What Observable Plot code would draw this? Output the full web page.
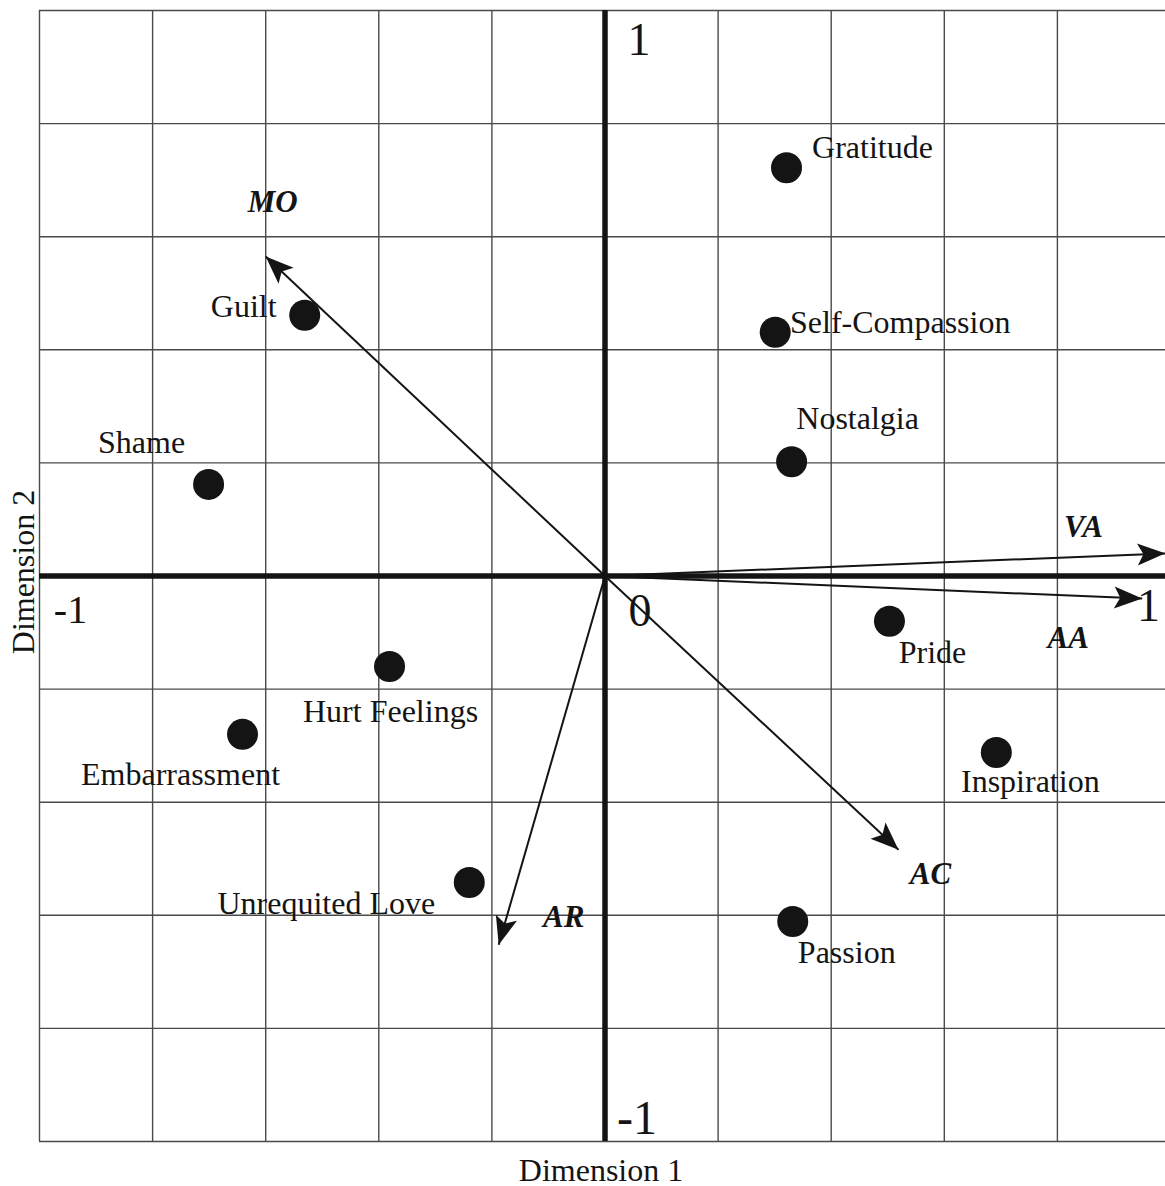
<!DOCTYPE html>
<html><head><meta charset="utf-8">
<script src="https://cdn.jsdelivr.net/npm/d3@7"></script>
<script src="https://cdn.jsdelivr.net/npm/@observablehq/plot@0.6"></script>
<style>html,body{margin:0;padding:0;background:#fff;overflow:hidden;}</style>
</head><body><div id="chart"></div>
<script>
// ---- data ----
const emotions = ["Gratitude","Self-Compassion","Nostalgia","Guilt","Shame","Pride","Hurt Feelings","Embarrassment","Inspiration","Unrequited Love","Passion"];
const dim1 = [0.321, 0.301, 0.330, -0.531, -0.701, 0.503, -0.381, -0.641, 0.692, -0.240, 0.332];
const dim2 = [0.722, 0.431, 0.202, 0.461, 0.162, -0.080, -0.160, -0.280, -0.312, -0.542, -0.611];
const vectors = ["MO","VA","AA","AC","AR"];
const vecX = [-0.600, 0.991, 0.950, 0.519, -0.188];
const vecY = [0.565, 0.040, -0.040, -0.484, -0.652];
const gridTicks = [-1,-0.8,-0.6,-0.4,-0.2,0,0.2,0.4,0.6,0.8,1];
const tickLabels = ["1","-1","0","1","-1"];
const tickX = [0,-1,0,1,0];
const tickY = [1,0,0,0,-1];

// ---- layout (label offsets in px: dx to text centre, dy to baseline) ----
const pointLabelOffset = {
  "Gratitude":[86,-10], "Self-Compassion":[125,1], "Nostalgia":[66,-33], "Guilt":[-61,2],
  "Shame":[-67,-31], "Pride":[43,42], "Hurt Feelings":[1,56], "Embarrassment":[-62,51],
  "Inspiration":[34,40], "Unrequited Love":[-143,31], "Passion":[54,41]
};
const vectorLabelOffset = {"MO":[7,-44],"VA":[-82,-16],"AA":[-74,49],"AC":[32,34],"AR":[65,-18]};
const tickLabelStyle = [[34,44,46],[31,47,40],[35,50,46],[-22,45,46],[32,-8,48]];

const points = emotions.map((name,i)=>({name, x:dim1[i], y:dim2[i]}));
const vecs = vectors.map((name,i)=>({name, x:vecX[i], y:vecY[i]}));
const ticks = tickLabels.map((t,i)=>({t, x:tickX[i], y:tickY[i]}));

const arrowHead = {
  draw(ctx){ ctx.moveTo(0,0); ctx.lineTo(11,28); ctx.lineTo(0,22); ctx.lineTo(-11,28); ctx.closePath(); }
};
const ink = "#141414";
const font = "'Liberation Serif', 'Times New Roman', serif";

const chart = Plot.plot({
  width: 1165, height: 1186,
  marginLeft: 39, marginRight: -5, marginTop: 10, marginBottom: 45,
  x: {domain: [-1, 1], axis: null},
  y: {domain: [-1, 1], axis: null},
  style: {fontFamily: font, background: "#fff", color: ink},
  marks: [
    Plot.gridX(gridTicks, {stroke: "#4a4a4a", strokeOpacity: 1, strokeWidth: 1.4}),
    Plot.gridY(gridTicks, {stroke: "#4a4a4a", strokeOpacity: 1, strokeWidth: 1.4}),
    Plot.ruleX([0], {stroke: ink, strokeWidth: 5.5}),
    Plot.ruleY([0], {stroke: ink, strokeWidth: 5.5}),
    Plot.link(vecs, {x1: d => 0, y1: d => 0, x2: "x", y2: "y", stroke: ink, strokeWidth: 2}),
    Plot.dot(vecs, {x: "x", y: "y", symbol: arrowHead, rotate: d => Math.atan2(d.x, d.y) * 180 / Math.PI, fill: ink, stroke: "none", r: 10}),
    Plot.dot(points, {x: "x", y: "y", r: 15.5, fill: ink}),
    ...points.map(p => Plot.text([p], {x: "x", y: "y", text: "name", dx: pointLabelOffset[p.name][0], dy: pointLabelOffset[p.name][1], lineAnchor: "bottom", textAnchor: "middle", fontSize: 32, fill: ink})),
    ...vecs.map(v => Plot.text([v], {x: "x", y: "y", text: "name", dx: vectorLabelOffset[v.name][0], dy: vectorLabelOffset[v.name][1], lineAnchor: "bottom", textAnchor: "middle", fontSize: 31, fontWeight: "bold", fontStyle: "italic", fill: ink})),
    ...ticks.map((t,i) => Plot.text([t], {x: "x", y: "y", text: "t", dx: tickLabelStyle[i][0], dy: tickLabelStyle[i][1], fontSize: tickLabelStyle[i][2], lineAnchor: "bottom", textAnchor: "middle", fill: ink})),
    Plot.text(["Dimension 1"], {frameAnchor: "bottom", text: d => d, dx: -4, dy: 39, lineAnchor: "bottom", textAnchor: "middle", fontSize: 32, fill: ink}),
    Plot.text(["Dimension 2"], {frameAnchor: "left", text: d => d, dx: -6, dy: -4, rotate: -90, lineAnchor: "bottom", textAnchor: "middle", fontSize: 32, fill: ink})
  ]
});
document.getElementById("chart").appendChild(chart);
</script>
</body></html>
